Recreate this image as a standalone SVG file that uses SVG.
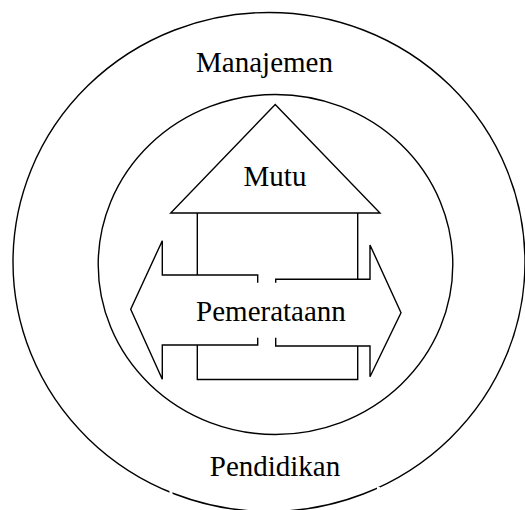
<svg xmlns="http://www.w3.org/2000/svg" width="525" height="510" viewBox="0 0 525 510">
<style>
.ln{fill:none;stroke:#000;stroke-width:1.4;stroke-linejoin:miter}
.tx{font-family:"Liberation Serif","Times New Roman",serif;font-size:29px;fill:#000;text-anchor:middle}
</style>
<rect width="525" height="510" fill="#fff"/>
<g id="outer">
<ellipse class="ln" cx="269" cy="262" rx="256" ry="249.5"/>
<rect x="169.5" y="487" width="3" height="9" fill="#fff"/>
<rect x="377" y="487" width="3" height="9" fill="#fff"/>
<text class="tx" x="264.5" y="72">Manajemen</text>
<text class="tx" x="275" y="476">Pendidikan</text>
</g>
<g id="inner">
<ellipse class="ln" cx="275.5" cy="264.5" rx="177.3" ry="170"/>
</g>
<g id="house">
<polygon class="ln" points="275.2,104.5 380,213 170.7,213"/>
<polyline class="ln" points="197.3,213 197.3,275"/>
<polyline class="ln" points="357.7,213 357.7,279.3"/>
<polyline class="ln" points="197.3,345 197.3,379.5 357.7,379.5 357.7,346"/>
<text class="tx" x="275" y="186">Mutu</text>
</g>
<g id="arrow">
<polyline class="ln" points="257.7,282.7 257.7,275 162.3,275 162.3,240.7 130.7,309.3 162.3,379.3 162.3,345 257.7,345 257.7,337.7"/>
<polyline class="ln" points="275.7,282.7 275.7,279.3 370,279.3 370,245 401,312.7 370,376.7 370,346 275.7,346 275.7,337.7"/>
<text class="tx" x="271" y="321">Pemerataann</text>
</g>
</svg>
